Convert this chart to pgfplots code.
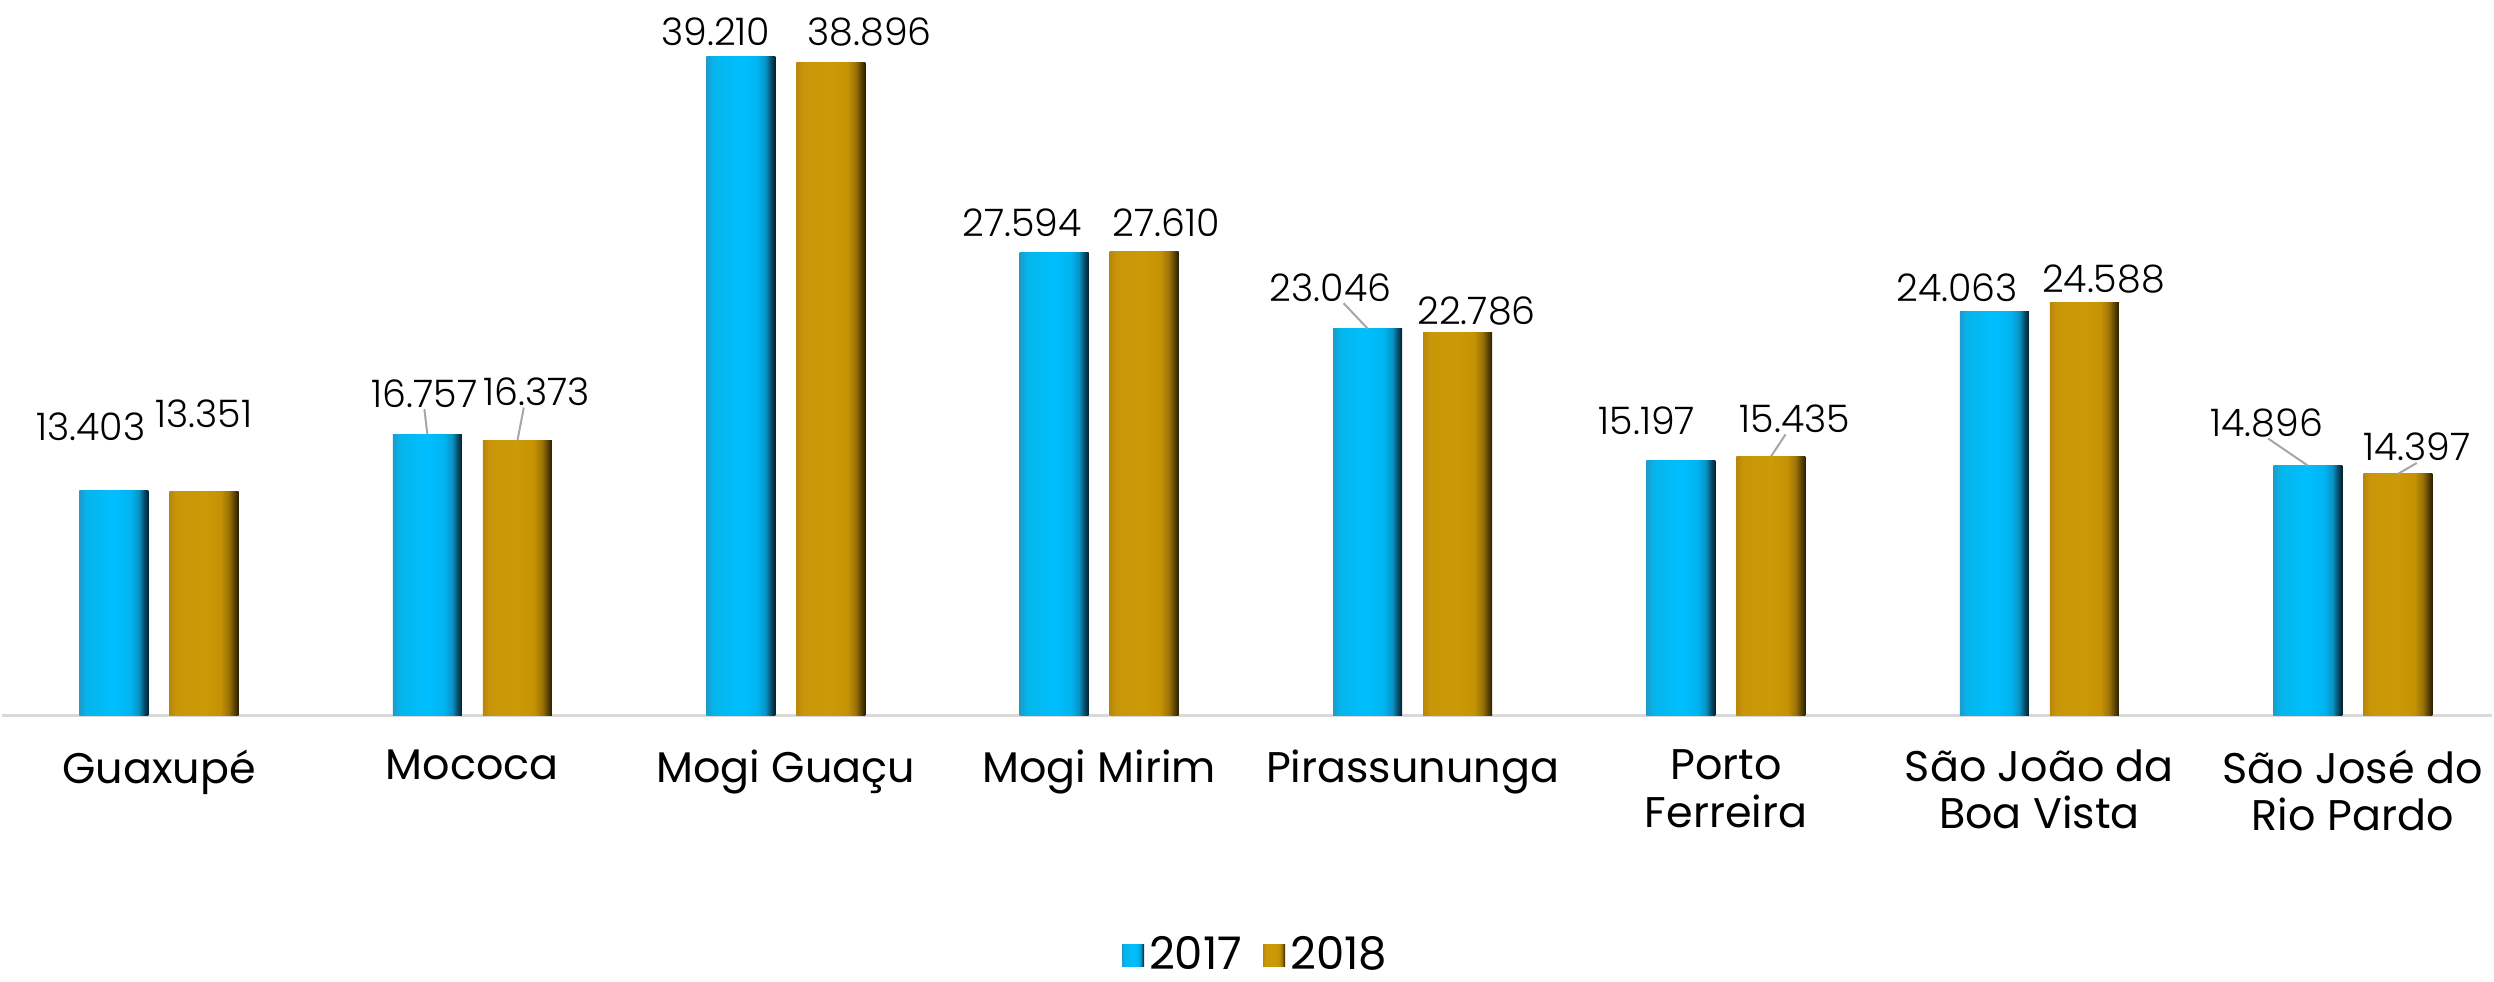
\documentclass[border=0pt]{standalone}
\usepackage{pgfplots}
\usepackage{pgfplotstable}
\pgfplotsset{compat=1.18}
\usepackage{fontspec}
\setmainfont{Poppins}
\newfontfamily\lightfont{Poppins Light}

\definecolor{axisgray}{HTML}{D9D9D9}
\definecolor{leadgray}{HTML}{A6A6A6}
\pgfdeclarehorizontalshading{blueshade}{100bp}{%
  color(0bp)=(rgb,255:red,30;green,154;blue,203);
  color(25bp)=(rgb,255:red,30;green,154;blue,203);
  color(30bp)=(rgb,255:red,5;green,181;blue,235);
  color(50bp)=(rgb,255:red,0;green,191;blue,255);
  color(62bp)=(rgb,255:red,0;green,180;blue,240);
  color(68bp)=(rgb,255:red,8;green,146;blue,196);
  color(72bp)=(rgb,255:red,6;green,74;blue,102);
  color(75bp)=(rgb,255:red,2;green,32;blue,46);
  color(100bp)=(rgb,255:red,2;green,32;blue,46)}
\pgfdeclarehorizontalshading{goldshade}{100bp}{%
  color(0bp)=(rgb,255:red,184;green,135;blue,10);
  color(25bp)=(rgb,255:red,184;green,135;blue,10);
  color(30bp)=(rgb,255:red,201;green,150;blue,10);
  color(50bp)=(rgb,255:red,204;green,154;blue,6);
  color(62bp)=(rgb,255:red,197;green,146;blue,5);
  color(68bp)=(rgb,255:red,154;green,114;blue,6);
  color(72bp)=(rgb,255:red,90;green,66;blue,4);
  color(75bp)=(rgb,255:red,42;green,31;blue,0);
  color(100bp)=(rgb,255:red,42;green,31;blue,0)}

% x: category, y: value (thousands), dx/dy: label offset in px
\pgfplotstableread{
x y dx dy
0 13.403 -23 64
1 16.757 -3 41
2 39.210 -25 25
3 27.594 -32 29
4 23.046 -37 41
5 15.197 -34 40
6 24.063 -37 24
7 14.896 -41 43
}\tblA
\pgfplotstableread{
x y dx dy
0 13.351 0 78
1 16.373 19 49
2 38.896 39 30
3 27.610 22 29
4 22.786 19 22
5 15.435 24 38
6 24.588 19 24
7 14.397 19 27
}\tblB

\begin{document}
\begin{tikzpicture}
\path[use as bounding box] (0,0) rectangle (249.4mm,98.2mm);
\begin{axis}[
  scale only axis, width=248.96mm, height=71.6mm,
  at={(0.23mm,26.6mm)}, anchor=south west,
  xmin=-0.5, xmax=7.444, ymin=0, ymax=42.59,
  axis y line=none, axis x line*=bottom,
  x axis line style={-, draw=axisgray, line width=0.3mm},
  major tick length=0pt, ytick=\empty,
  xtick={0,...,7},
  xticklabels={Guaxupé, Mococa, Mogi Guaçu, Mogi Mirim, Pirassununga, {Porto\\Ferreira}, {São João da\\Boa Vista}, {São José do\\Rio Pardo}},
  xticklabel style={align=center, anchor=north, inner sep=0pt, yshift=-3.3mm, font=\fontsize{12.2}{13.5}\selectfont},
  clip=false,
  legend style={at={(0.504,-0.334)}, anchor=center, draw=none, legend columns=2,
     font=\fontsize{12.8}{13}\selectfont, nodes={inner sep=0.5mm},
     /tikz/every even column/.append style={column sep=1.6mm}},
  legend image code/.code={\path[#1, draw=none] (0mm,-1.1mm) rectangle (2.2mm,1.1mm);},
  lbl/.style={forget plot, draw=none, mark=none, nodes near coords,
     point meta=explicit symbolic,
     every node near coord/.append style={anchor=center, inner sep=0pt,
        font=\lightfont\fontsize{10.8}{11}\selectfont, text=black}},
]
\addlegendimage{draw=none, shading=blueshade}
\addlegendentry{2017}
\addlegendimage{draw=none, shading=goldshade}
\addlegendentry{2018}
\pgfplotsinvokeforeach{0,...,7}{
  \addplot[forget plot, ybar, bar width=6.9mm, draw=none, shading=blueshade, bar shift=-4.5mm,
     restrict x to domain=#1:#1] table[x=x, y=y] {\tblA};
  \addplot[forget plot, ybar, bar width=6.9mm, draw=none, shading=goldshade, bar shift=4.5mm,
     restrict x to domain=#1:#1] table[x=x, y=y] {\tblB};
}
% leader lines (bar top -> label)
\addplot[forget plot, leadgray, line width=0.2mm, mark=none, unbounded coords=jump] coordinates {
  (0.8564,16.757) (0.8468,18.25)
  (1.1436,nan)
  (1.1436,16.373) (1.1642,18.35)
  (3.8564,nan)
  (3.8564,23.046) (3.78,24.55)
  (5.1436,nan)
  (5.1436,15.435) (5.19,16.75)
  (6.8564,nan)
  (6.8564,14.896) (6.73,16.5)
  (7.1436,nan)
  (7.1436,14.397) (7.2042,15.05)
};
% value labels
\addplot[lbl] table[x expr={\thisrow{x}-0.1436+\thisrow{dx}/313.4}, y expr={\thisrow{y}+\thisrow{dy}/16.81}, meta=y] {\tblA};
\addplot[lbl] table[x expr={\thisrow{x}+0.1436+\thisrow{dx}/313.4}, y expr={\thisrow{y}+\thisrow{dy}/16.81}, meta=y] {\tblB};
\end{axis}
\end{tikzpicture}
\end{document}
